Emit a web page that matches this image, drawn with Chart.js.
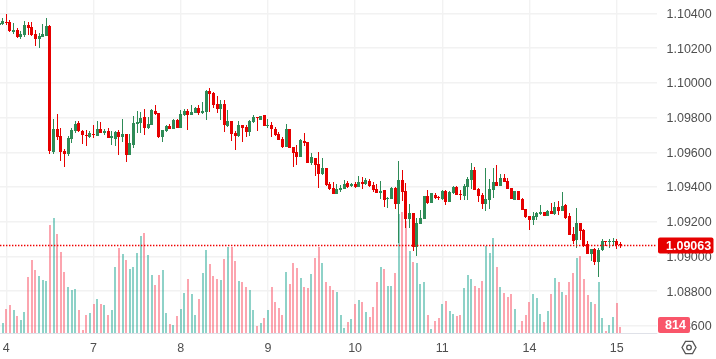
<!DOCTYPE html>
<html>
<head>
<meta charset="utf-8">
<script src="https://cdn.jsdelivr.net/npm/chart.js@4"></script>
<style>
  html, body { margin: 0; padding: 0; background: #fff; }
  canvas { display: block; }
</style>
</head>
<body>
<canvas id="priceChart" width="716" height="359"></canvas>
<script>
const dayTicks = [2, 26, 50, 74, 98, 122, 146, 170];
const dayLabels = ['4', '7', '8', '9', '10', '11', '14', '15'];
const priceTicks = [1.104, 1.102, 1.1, 1.098, 1.096, 1.094, 1.092, 1.09, 1.088, 1.086];
const lastPrice = 1.09063;
const lastVolume = 814;

const opens = [
  1.10335,1.10339,1.10350,1.10350,1.10295,1.10304,1.10264,1.10275,1.10333,1.10321,1.10281,1.10252,1.10264,1.10270,1.10327,1.09602,1.09734,1.09694,1.09607,1.09590,1.09676,1.09722,1.09769,1.09722,
  1.09699,1.09688,1.09705,1.09694,1.09734,1.09711,1.09722,1.09682,1.09676,1.09717,1.09688,1.09705,1.09584,1.09642,1.09763,1.09769,1.09803,1.09740,1.09757,1.09838,1.09826,1.09688,1.09722,1.09751,
  1.09734,1.09786,1.09740,1.09815,1.09838,1.09815,1.09826,1.09855,1.09826,1.09832,1.09953,1.09941,1.09878,1.09849,1.09878,1.09751,1.09780,1.09711,1.09694,1.09757,1.09745,1.09717,1.09774,1.09803,
  1.09786,1.09815,1.09751,1.09757,1.09734,1.09705,1.09676,1.09630,1.09734,1.09630,1.09602,1.09573,1.09665,1.09659,1.09538,1.09567,1.09532,1.09475,1.09509,1.09417,1.09394,1.09360,1.09383,1.09388,
  1.09423,1.09406,1.09417,1.09400,1.09429,1.09417,1.09434,1.09411,1.09388,1.09365,1.09383,1.09331,1.09331,1.09394,1.09302,1.09440,1.09377,1.09216,1.09250,1.09054,1.09187,1.09216,1.09348,1.09308,
  1.09354,1.09342,1.09331,1.09377,1.09313,1.09365,1.09400,1.09360,1.09348,1.09400,1.09440,1.09498,1.09388,1.09354,1.09302,1.09325,1.09383,1.09429,1.09406,1.09452,1.09434,1.09394,1.09325,1.09377,
  1.09331,1.09273,1.09233,1.09210,1.09227,1.09244,1.09256,1.09233,1.09262,1.09244,1.09285,1.09262,1.09296,1.09233,1.09129,1.09095,1.09193,1.09152,1.09072,1.09014,1.09043,1.08968,1.09037,1.09089,
  1.09083,1.09083,1.09089,1.09072
];
const highs = [
  1.10346,1.10373,1.10396,1.10362,1.10343,1.10316,1.10298,1.10356,1.10350,1.10350,1.10304,1.10287,1.10339,1.10373,1.10333,1.09792,1.09820,1.09740,1.09619,1.09694,1.09740,1.09780,1.09780,1.09728,
  1.09728,1.09722,1.09757,1.09780,1.09774,1.09734,1.09740,1.09722,1.09722,1.09728,1.09792,1.09705,1.09705,1.09809,1.09838,1.09832,1.09849,1.09803,1.09849,1.09872,1.09826,1.09728,1.09757,1.09763,
  1.09792,1.09792,1.09843,1.09849,1.09849,1.09872,1.09861,1.09872,1.09889,1.09959,1.09970,1.09947,1.09924,1.09901,1.09901,1.09843,1.09780,1.09722,1.09780,1.09757,1.09757,1.09786,1.09815,1.09803,
  1.09809,1.09815,1.09792,1.09774,1.09745,1.09717,1.09688,1.09763,1.09734,1.09630,1.09642,1.09676,1.09711,1.09659,1.09596,1.09567,1.09602,1.09567,1.09509,1.09429,1.09429,1.09417,1.09411,1.09440,
  1.09434,1.09423,1.09429,1.09463,1.09457,1.09452,1.09446,1.09429,1.09417,1.09434,1.09383,1.09342,1.09400,1.09400,1.09550,1.09498,1.09423,1.09302,1.09250,1.09221,1.09267,1.09348,1.09383,1.09365,
  1.09365,1.09348,1.09383,1.09383,1.09377,1.09406,1.09406,1.09383,1.09417,1.09457,1.09538,1.09515,1.09394,1.09365,1.09509,1.09446,1.09509,1.09527,1.09475,1.09475,1.09452,1.09394,1.09377,1.09377,
  1.09337,1.09273,1.09233,1.09256,1.09256,1.09296,1.09256,1.09267,1.09308,1.09313,1.09319,1.09371,1.09302,1.09250,1.09169,1.09279,1.09193,1.09158,1.09089,1.09043,1.09049,1.09049,1.09100,1.09089,
  1.09100,1.09106,1.09100,1.09083
];
const lows = [
  1.10333,1.10333,1.10333,1.10291,1.10281,1.10258,1.10252,1.10264,1.10275,1.10270,1.10212,1.10201,1.10264,1.10270,1.09590,1.09590,1.09671,1.09550,1.09515,1.09578,1.09653,1.09711,1.09717,1.09648,
  1.09636,1.09682,1.09682,1.09694,1.09711,1.09699,1.09682,1.09642,1.09636,1.09584,1.09659,1.09544,1.09584,1.09625,1.09711,1.09711,1.09699,1.09734,1.09757,1.09815,1.09682,1.09659,1.09717,1.09734,
  1.09734,1.09740,1.09740,1.09809,1.09728,1.09815,1.09826,1.09815,1.09820,1.09786,1.09832,1.09855,1.09826,1.09786,1.09717,1.09745,1.09665,1.09613,1.09688,1.09659,1.09688,1.09694,1.09769,1.09722,
  1.09786,1.09751,1.09740,1.09688,1.09694,1.09671,1.09625,1.09630,1.09625,1.09515,1.09527,1.09573,1.09636,1.09538,1.09527,1.09463,1.09394,1.09469,1.09406,1.09383,1.09360,1.09360,1.09371,1.09388,
  1.09394,1.09400,1.09394,1.09400,1.09388,1.09411,1.09400,1.09371,1.09365,1.09331,1.09285,1.09279,1.09331,1.09273,1.09077,1.09319,1.09164,1.09164,1.09031,1.09002,1.09187,1.09216,1.09302,1.09308,
  1.09331,1.09325,1.09325,1.09296,1.09313,1.09360,1.09354,1.09325,1.09325,1.09325,1.09388,1.09383,1.09313,1.09273,1.09262,1.09273,1.09337,1.09406,1.09406,1.09429,1.09388,1.09331,1.09325,1.09325,
  1.09267,1.09221,1.09152,1.09181,1.09210,1.09239,1.09233,1.09233,1.09244,1.09239,1.09239,1.09262,1.09216,1.09123,1.09072,1.09049,1.09095,1.09054,1.09014,1.08974,1.08951,1.08881,1.09031,1.09060,
  1.09049,1.09060,1.09043,1.09049
];
const closes = [
  1.10345,1.10356,1.10345,1.10298,1.10304,1.10264,1.10281,1.10333,1.10316,1.10275,1.10252,1.10270,1.10281,1.10327,1.09607,1.09734,1.09688,1.09602,1.09590,1.09682,1.09728,1.09763,1.09722,1.09699,
  1.09694,1.09711,1.09699,1.09734,1.09711,1.09722,1.09682,1.09694,1.09717,1.09688,1.09705,1.09584,1.09653,1.09769,1.09774,1.09797,1.09740,1.09763,1.09843,1.09820,1.09688,1.09728,1.09751,1.09734,
  1.09786,1.09740,1.09820,1.09836,1.09815,1.09832,1.09855,1.09826,1.09838,1.09953,1.09936,1.09872,1.09849,1.09878,1.09757,1.09780,1.09705,1.09694,1.09757,1.09740,1.09717,1.09780,1.09803,1.09797,
  1.09809,1.09751,1.09757,1.09734,1.09699,1.09671,1.09630,1.09734,1.09625,1.09596,1.09573,1.09671,1.09653,1.09538,1.09573,1.09527,1.09475,1.09509,1.09411,1.09388,1.09360,1.09388,1.09394,1.09417,
  1.09400,1.09417,1.09400,1.09429,1.09417,1.09440,1.09406,1.09383,1.09365,1.09377,1.09325,1.09337,1.09394,1.09302,1.09440,1.09371,1.09216,1.09250,1.09054,1.09193,1.09221,1.09348,1.09308,1.09365,
  1.09337,1.09337,1.09377,1.09313,1.09371,1.09400,1.09354,1.09354,1.09406,1.09446,1.09498,1.09383,1.09348,1.09302,1.09331,1.09388,1.09429,1.09406,1.09452,1.09429,1.09388,1.09331,1.09377,1.09325,
  1.09267,1.09227,1.09210,1.09233,1.09250,1.09256,1.09233,1.09262,1.09244,1.09285,1.09262,1.09290,1.09221,1.09123,1.09089,1.09193,1.09146,1.09060,1.09014,1.09043,1.08968,1.09037,1.09089,1.09083,
  1.09089,1.09089,1.09066,1.09063
];
const volumes = [
  900,1395,3285,3825,3150,2340,1800,2880,7605,9900,8550,7740,7200,7065,14625,15570,13410,10980,8280,6255,5850,5985,3150,450,
  2475,2745,3960,4635,3960,3825,2475,3150,8955,11520,10710,9900,8685,8955,10845,13140,13545,10575,7875,6525,7875,8550,2745,1260,
  1125,2340,3240,5400,7290,5265,2430,4590,8100,11205,9315,7695,7290,7155,9990,11610,11610,9720,7020,6885,6210,5805,3105,945,
  1350,2025,3105,6210,4185,3375,2430,8235,6615,9450,8775,7425,6210,6075,7965,10125,11610,9450,6885,6345,5805,5535,2430,675,
  1485,1890,3915,4455,4185,2835,2160,3510,6885,8910,8640,6345,6345,8100,16065,16335,15120,11070,9585,9450,6615,6885,2430,540,
  1620,2025,3915,4320,2970,2565,2295,2430,6075,7830,7290,6345,6075,7020,11745,10800,12825,8910,6210,5400,4860,5265,3240,405,
  1620,2430,4185,5265,4680,2565,1485,2970,5265,7425,6885,5535,5130,6885,8100,10125,10395,7290,5130,4185,3915,6885,2025,270,
  1080,2160,4050,814
];

const UP = '#2e8b57';
const DOWN = '#e60000';
const UP_VOL = 'rgba(30,165,145,0.5)';
const DOWN_VOL = 'rgba(250,75,95,0.5)';
const TEXT = '#4f4f4f';
const FONT = 'Liberation Sans';

const isUp = opens.map((o, i) => closes[i] >= o);
const candleColors = isUp.map(u => u ? UP : DOWN);
const volumeColors = isUp.map(u => u ? UP_VOL : DOWN_VOL);

const barDefaults = {
  type: 'bar',
  grouped: false,
  barPercentage: 1,
  categoryPercentage: 1,
  borderWidth: 0,
  inflateAmount: 0
};

// price line, value tags and the little settings button
const overlay = {
  id: 'overlay',
  // price labels sit a pixel low in the original
  afterLayout(chart) {
    chart.scales.y.getLabelItems().forEach(item => { item.options.translation[1] += 1; });
  },
  // line the bars up with the pixel grid so they stay crisp
  beforeDatasetsDraw(chart) {
    chart.data.datasets.forEach((ds, d) => {
      chart.getDatasetMeta(d).data.forEach(bar => {
        bar.x = ds.maxBarThickness % 2 ? Math.floor(bar.x) + 0.5 : Math.round(bar.x);
        bar.y = Math.round(bar.y);
        bar.base = Math.round(bar.base);
        if (bar.y === bar.base) bar.base += 1;
      });
    });
  },
  afterDatasetsDraw(chart) {
    const { ctx, chartArea, scales } = chart;
    const y = Math.floor(scales.y.getPixelForValue(lastPrice)) + 0.5;
    ctx.save();
    ctx.strokeStyle = '#f00000';
    ctx.lineWidth = 1.4;
    ctx.setLineDash([1.4, 1.6]);
    ctx.beginPath();
    ctx.moveTo(chartArea.left, y);
    ctx.lineTo(chartArea.right, y);
    ctx.stroke();
    ctx.restore();
  },
  afterDraw(chart) {
    const { ctx, scales } = chart;
    const y = scales.y.getPixelForValue(lastPrice);
    ctx.save();
    ctx.textBaseline = 'middle';
    ctx.textAlign = 'left';
    ctx.font = 'bold 12.5px "' + FONT + '"';

    ctx.fillStyle = DOWN;
    ctx.beginPath();
    ctx.roundRect(658, y - 8, 55.5, 16, 2);
    ctx.fill();
    ctx.fillStyle = '#fff';
    ctx.fillText(lastPrice.toFixed(5), 666, y + 1);

    ctx.fillStyle = '#f9566a';
    ctx.beginPath();
    ctx.roundRect(658, 317, 32, 16, 2);
    ctx.fill();
    ctx.fillStyle = '#fff';
    ctx.fillText(String(lastVolume), 665, 326);

    ctx.strokeStyle = '#555';
    ctx.lineWidth = 1.3;
    ctx.beginPath();
    for (let k = 0; k < 6; k++) {
      const a = k * Math.PI / 3;
      ctx.lineTo(689 + 7 * Math.cos(a), 347.5 + 7 * Math.sin(a));
    }
    ctx.closePath();
    ctx.stroke();
    ctx.beginPath();
    ctx.arc(689, 347.5, 2.3, 0, Math.PI * 2);
    ctx.stroke();
    ctx.restore();
  }
};

// the tick padding would otherwise push the chart area in from the canvas edge
function noAxisMargins(axis) {
  axis.paddingTop = 0;
  axis.paddingBottom = 0;
  axis.paddingLeft = 0;
  axis.paddingRight = 0;
}

new Chart(document.getElementById('priceChart'), {
  data: {
    datasets: [
      Object.assign({}, barDefaults, {
        label: 'Body',
        order: 1,
        yAxisID: 'y',
        maxBarThickness: 3,
        backgroundColor: candleColors,
        data: opens.map((o, i) => ({ x: i, y: [o, closes[i]] }))
      }),
      Object.assign({}, barDefaults, {
        label: 'Wick',
        order: 2,
        yAxisID: 'y',
        maxBarThickness: 1,
        backgroundColor: candleColors,
        data: lows.map((l, i) => ({ x: i, y: [l, highs[i]] }))
      }),
      Object.assign({}, barDefaults, {
        label: 'Volume',
        order: 3,
        yAxisID: 'vol',
        maxBarThickness: 2,
        backgroundColor: volumeColors,
        data: volumes.map((v, i) => ({ x: i, y: v }))
      })
    ]
  },
  options: {
    responsive: false,
    animation: false,
    layout: { padding: 0 },
    plugins: { legend: { display: false }, tooltip: { enabled: false }, title: { display: false } },
    scales: {
      x: {
        type: 'linear',
        bounds: 'data',
        offset: false,
        min: 0.26,
        max: 181.1,
        grid: { offset: false, color: '#f2f2f2', lineWidth: 1.4, drawTicks: false },
        border: { color: '#dfe1e8', width: 1 },
        afterBuildTicks(axis) { axis.ticks = dayTicks.map(v => ({ value: v })); },
        afterFit(axis) { axis.height = 26; noAxisMargins(axis); },
        ticks: {
          autoSkip: false,
          maxRotation: 0,
          padding: 8,
          color: TEXT,
          font: { family: FONT, size: 12.5 },
          callback: v => dayLabels[dayTicks.indexOf(v)]
        }
      },
      y: {
        position: 'right',
        bounds: 'data',
        min: 1.08559,
        max: 1.10477,
        grid: { color: '#f2f2f2', lineWidth: 1.4, drawTicks: false },
        border: { display: false },
        afterBuildTicks(axis) { axis.ticks = priceTicks.map(v => ({ value: v })); },
        afterFit(axis) { axis.width = 59; noAxisMargins(axis); },
        ticks: {
          padding: 9.5,
          color: TEXT,
          font: { family: FONT, size: 12.5 },
          callback: v => v.toFixed(5)
        }
      },
      vol: {
        display: false,
        min: 0,
        max: 44955
      }
    }
  },
  plugins: [overlay]
});
</script>
</body>
</html>
